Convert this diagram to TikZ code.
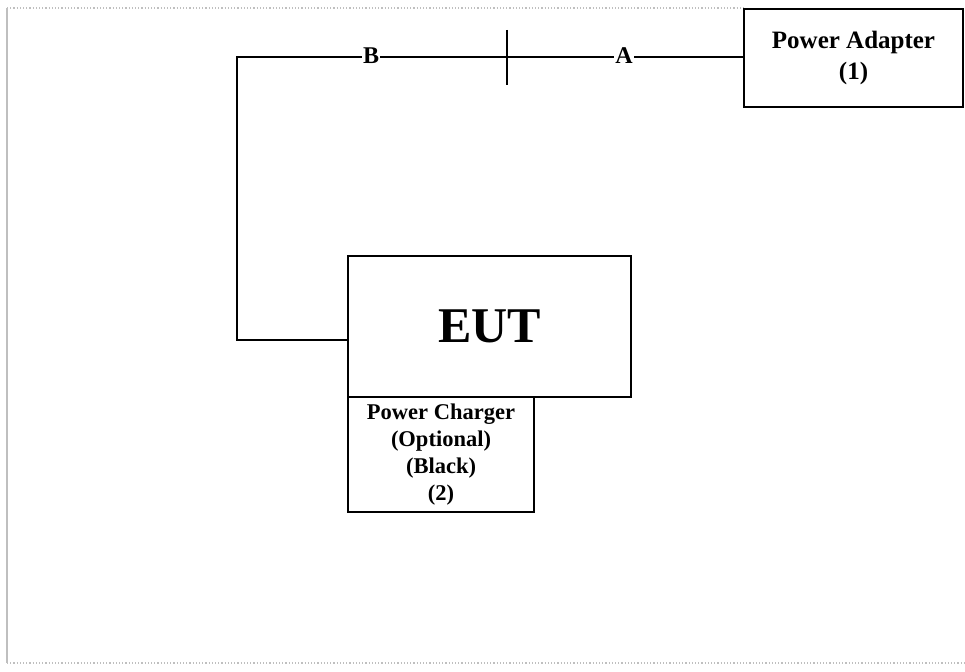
\documentclass[tikz,border=0pt]{standalone}
\usepackage{fontspec}
\setmainfont{Liberation Serif}
\begin{document}
\begin{tikzpicture}[x=1pt,y=-1pt,
  box/.style={draw=black,line width=2.4pt,rectangle,inner sep=0pt,align=center,font=\bfseries},
  wire/.style={draw=black,line width=2.4pt},
  lbl/.style={fill=white,inner sep=1pt,font=\bfseries\fontsize{24}{28}\selectfont},
  frame/.style={draw=black!25,line width=1.2pt}]
\useasboundingbox (0,0) rectangle (965,671);
% faint frame
\draw[frame,dotted] (7,8) -- (744,8);
\draw[frame] (7,8) -- (7,663);
\draw[frame,dotted] (7,663) -- (965,663);
% boxes
\node[box,minimum width=219pt,minimum height=98pt,font=\bfseries\fontsize{25}{31}\selectfont] (pa) at (853.5,58) {Power Adapter\\(1)};
\node[box,minimum width=283pt,minimum height=141pt,font=\bfseries\fontsize{50}{56}\selectfont] (eut) at (489.5,326.5) {EUT};
\node[box,minimum width=186pt,minimum height=115pt,font=\bfseries\fontsize{22.5}{27}\selectfont] (pc) at (441,454.5) {Power Charger\\(Optional)\\(Black)\\(2)};
% wiring
\coordinate (c1) at (237,57);
\coordinate (c2) at (237,340);
\coordinate (t1) at (507,30);
\coordinate (t2) at (507,85);
\draw[wire,line join=miter] (c1 -| pa.west) -- (c1) -- (c2) -- (c2 -| eut.west);
\draw[wire] (t1) -- (t2);
\node[lbl] (b) at (371,56) {B};
\node[lbl] (a) at (624,56) {A};
\end{tikzpicture}
\end{document}
